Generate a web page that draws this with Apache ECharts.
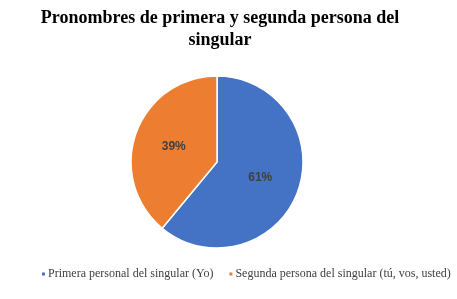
<!DOCTYPE html>
<html><head><meta charset="utf-8">
<script src="https://cdn.jsdelivr.net/npm/echarts@6/dist/echarts.min.js"></script>
<style>html,body{margin:0;padding:0;background:#fff}#c{width:457px;height:299px}</style>
</head><body><div id="c"></div>
<script>
const categories = ['Primera personal del singular (Yo)', 'Segunda persona del singular (tú, vos, usted)'];
const values = [61, 39];
const colors = ['#4472C4', '#ED7D31'];
const titleText = 'Pronombres de primera y segunda persona del\nsingular';

const chart = echarts.init(document.getElementById('c'));
chart.setOption({
  animation: false,
  title: {
    text: titleText, left: 215, top: 2, textAlign: 'center',
    textStyle: {fontFamily: 'Liberation Serif', fontWeight: 'bold', fontSize: 18, color: '#000', lineHeight: 22}
  },
  legend: {
    top: 268, left: 40, width: 417, padding: 0, itemWidth: 5, itemHeight: 5, itemGap: 14, icon: 'rect',
    textStyle: {fontFamily: 'Liberation Serif', fontSize: 12, color: '#404040', padding: [0,0,0,-3]},
    data: categories
  },
  series: [{
    type: 'pie', center: [217, 162], radius: 86, startAngle: 90, clockwise: true,
    itemStyle: {borderColor: '#fff', borderWidth: 1.5},
    label: {position: 'inside', formatter: '{c}%', fontFamily: 'Liberation Sans', fontWeight: 'bold', fontSize: 12, color: '#404040'},
    data: categories.map((n, i) => ({name: n, value: values[i], itemStyle: {color: colors[i]}}))
  }]
});
</script></body></html>
